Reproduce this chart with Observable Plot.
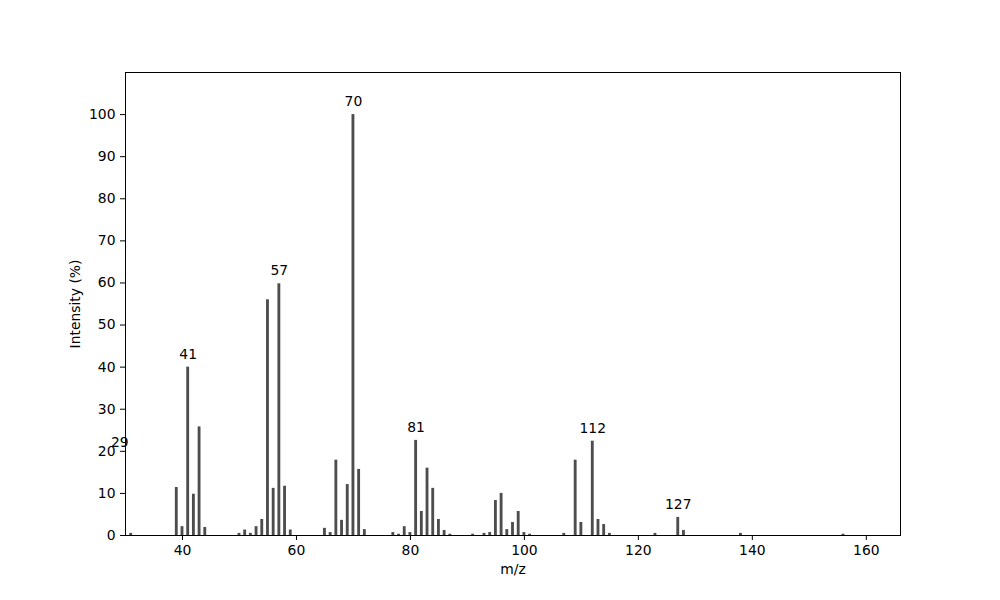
<!DOCTYPE html>
<html>
<head>
<meta charset="utf-8">
<script src="https://cdn.jsdelivr.net/npm/d3@7"></script>
<script src="https://cdn.jsdelivr.net/npm/@observablehq/plot@0.6"></script>
<style>
  html, body { margin: 0; padding: 0; background: #fff; }
  svg { font-family: "DejaVu Sans", sans-serif; }
</style>
</head>
<body>
<div id="chart"></div>
<script>
const mzValues = [29, 31, 39, 40, 41, 42, 43, 44, 50, 51, 52, 53, 54, 55, 56, 57, 58, 59,
  65, 66, 67, 68, 69, 70, 71, 72, 77, 78, 79, 80, 81, 82, 83, 84, 85, 86, 87,
  91, 93, 94, 95, 96, 97, 98, 99, 100, 101, 107, 109, 110, 112, 113, 114, 115,
  123, 127, 128, 138, 156];
const intensities = [19, 0.5, 11.4, 2.1, 40, 9.8, 25.8, 1.9, 0.5, 1.3, 0.5, 2.1, 3.8, 56, 11.2, 59.8, 11.7, 1.3,
  1.7, 0.7, 17.9, 3.6, 12.1, 100, 15.7, 1.4, 0.7, 0.3, 2.1, 0.7, 22.6, 5.7, 16.0, 11.2, 3.8, 1.2, 0.3,
  0.3, 0.5, 0.7, 8.3, 10.0, 1.4, 3.1, 5.7, 0.7, 0.3, 0.5, 17.9, 3.1, 22.4, 3.8, 2.6, 0.5,
  0.5, 4.3, 1.2, 0.5, 0.3];
const labelledPeaks = [29, 41, 57, 70, 81, 112, 127];
const yTicks = [0, 10, 20, 30, 40, 50, 60, 70, 80, 90, 100];
const xTicks = [40, 60, 80, 100, 120, 140, 160];

const peaks = mzValues.map((mz, i) => ({mz, intensity: intensities[i]}));
const labels = peaks.filter(d => labelledPeaks.includes(d.mz));

const chart = Plot.plot({
  width: 1000,
  height: 600,
  marginLeft: 125,
  marginRight: 100,
  marginTop: 72,
  marginBottom: 65,
  style: {fontFamily: "DejaVu Sans, sans-serif", fontSize: "13.9px", color: "#000", background: "#fff"},
  x: {domain: [30, 166]},
  y: {domain: [0, 110]},
  marks: [
    Plot.rectY(peaks, {
      x1: d => d.mz - 0.25,
      x2: d => d.mz + 0.25,
      y1: 0,
      y2: "intensity",
      fill: "#4d4d4d",
      clip: true
    }),
    Plot.text(labels, {
      x: "mz",
      y: "intensity",
      text: d => String(d.mz),
      dy: -13,
      fontSize: 13.9,
      fill: "#000",
      clip: false
    }),
    Plot.frame({stroke: "#000", strokeWidth: 1}),
    Plot.axisY({
      ticks: yTicks,
      tickSize: 5,
      tickPadding: 5,
      fontSize: 13.9,
      label: "Intensity (%)",
      labelAnchor: "center",
      labelArrow: "none",
      labelOffset: 55
    }),
    Plot.axisX({
      ticks: xTicks,
      tickSize: 5,
      tickPadding: 5,
      fontSize: 13.9,
      label: "m/z",
      labelAnchor: "center",
      labelArrow: "none",
      labelOffset: 38
    })
  ]
});
document.getElementById("chart").appendChild(chart);
</script>
</body>
</html>
